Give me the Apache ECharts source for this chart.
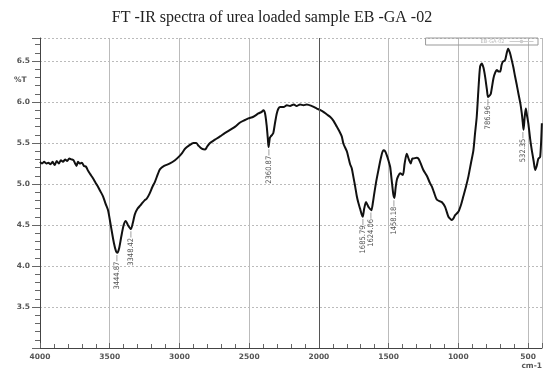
<!DOCTYPE html>
<html>
<head>
<meta charset="utf-8">
<script src="https://cdn.jsdelivr.net/npm/echarts@6/dist/echarts.min.js"></script>
<style>
  html, body { margin: 0; padding: 0; background: #fff; }
  #chart { width: 544px; height: 372px; }
</style>
</head>
<body>
<div id="chart"></div>
<script>
// FT-IR transmittance spectrum, wavenumber (cm-1) vs %T
const wavenumbers = [
  4000, 3985, 3970, 3955, 3940, 3925, 3910, 3895, 3880, 3865, 3850, 3835, 3820, 3805, 3790, 3775,
  3760, 3748, 3738, 3728, 3715, 3700, 3685, 3670, 3655, 3640, 3620, 3600, 3585, 3570, 3548, 3530,
  3512, 3491, 3470, 3455, 3444.87, 3432, 3418, 3400, 3385, 3370, 3348.42, 3335, 3320, 3300, 3280,
  3270, 3250, 3235, 3215, 3195, 3175, 3155, 3139, 3110, 3068, 3032, 3000, 2980, 2960, 2930, 2900,
  2880, 2865, 2840, 2816, 2800, 2781, 2745, 2709, 2675, 2637, 2600, 2565, 2530, 2506, 2470, 2434,
  2410, 2398, 2386, 2375, 2366, 2360.87, 2352, 2345, 2335, 2327, 2315, 2302, 2290, 2278, 2250,
  2230, 2207, 2180, 2160, 2135, 2110, 2087, 2050, 2015, 1990, 1968, 1945, 1920, 1895, 1872, 1855,
  1836, 1824, 1800, 1789, 1776, 1764, 1752, 1740, 1728, 1717, 1705, 1693, 1685.79, 1675, 1662,
  1650, 1640, 1624.06, 1612, 1605, 1590, 1573, 1555, 1538, 1525, 1509, 1500, 1489, 1475, 1466,
  1458.18, 1450, 1441, 1430, 1418, 1398, 1385, 1370, 1355, 1341, 1330, 1322, 1300, 1286, 1270,
  1251, 1226, 1203, 1190, 1175, 1155, 1135, 1119, 1095, 1071, 1055, 1047, 1035, 1023, 1000, 980,
  964, 945, 928, 910, 892, 880, 868, 856, 844, 832, 820, 808, 795, 786.96, 775, 767, 748, 735, 724,
  710, 700, 690, 681, 665, 655, 643, 630, 617, 605, 593, 580, 569, 555, 545, 538, 532.35, 524, 516,
  508, 498, 485, 473, 460, 449, 438, 426, 413, 401
];
const transmittance = [
  5.27, 5.25, 5.27, 5.25, 5.26, 5.24, 5.27, 5.23, 5.28, 5.25, 5.29, 5.27, 5.30, 5.28, 5.31, 5.30,
  5.29, 5.25, 5.22, 5.27, 5.25, 5.26, 5.22, 5.21, 5.16, 5.12, 5.07, 5.01, 4.97, 4.92, 4.85, 4.76,
  4.68, 4.48, 4.28, 4.18, 4.16, 4.22, 4.35, 4.50, 4.55, 4.50, 4.45, 4.52, 4.63, 4.70, 4.74,
  4.76, 4.80, 4.82, 4.88, 4.96, 5.03, 5.12, 5.18, 5.22, 5.25, 5.29, 5.34, 5.38, 5.43, 5.47, 5.50,
  5.50, 5.47, 5.43, 5.42, 5.46, 5.50, 5.54, 5.58, 5.62, 5.66, 5.70, 5.75, 5.78, 5.80, 5.82, 5.86,
  5.88, 5.90, 5.86, 5.72, 5.55, 5.45, 5.56, 5.58, 5.60, 5.62, 5.74, 5.86, 5.92, 5.94, 5.94,
  5.96, 5.95, 5.97, 5.95, 5.97, 5.96, 5.97, 5.95, 5.92, 5.90, 5.88, 5.85, 5.82, 5.77, 5.70, 5.65,
  5.58, 5.49, 5.40, 5.33, 5.24, 5.19, 5.08, 4.97, 4.85, 4.77, 4.70, 4.63, 4.60, 4.70, 4.78,
  4.74, 4.71, 4.68, 4.78, 4.86, 5.02, 5.17, 5.32, 5.41, 5.40, 5.33, 5.28, 5.21, 5.00, 4.87,
  4.83, 4.95, 5.05, 5.10, 5.13, 5.11, 5.25, 5.37, 5.30, 5.25, 5.31, 5.31, 5.32, 5.31, 5.25,
  5.17, 5.10, 5.01, 4.97, 4.90, 4.81, 4.79, 4.78, 4.72, 4.60, 4.57, 4.56, 4.58, 4.62, 4.66, 4.75,
  4.85, 4.97, 5.09, 5.25, 5.41, 5.62, 5.82, 6.15, 6.43, 6.47, 6.42, 6.31, 6.15, 6.06, 6.08, 6.10, 6.29, 6.36, 6.39,
  6.37, 6.37, 6.45, 6.49, 6.51, 6.58, 6.65, 6.60, 6.51, 6.42, 6.31, 6.20, 6.10, 5.98, 5.86, 5.75, 5.66, 5.82, 5.92,
  5.84, 5.74, 5.55, 5.41, 5.28, 5.17, 5.22, 5.31, 5.33, 5.74
];

// Labelled absorption bands
const peakWavenumbers = [3444.87, 3348.42, 2360.87, 1685.79, 1624.06, 1458.18, 786.96, 532.35];
const peakTransmittance = [4.16, 4.45, 5.45, 4.60, 4.68, 4.83, 6.06, 5.66];

// Axis tick labels
const yTickLabels = ['3.5', '4.0', '4.5', '5.0', '5.5', '6.0', '6.5'];
const xTickLabels = ['4000', '3500', '3000', '2500', '2000', '1500', '1000', '500'];

const spectrum = wavenumbers.map((w, i) => [w, transmittance[i]]);
const peaks = peakWavenumbers.map((w, i) => [w, peakTransmittance[i]]);

const axisFont = { fontFamily: 'DejaVu Sans', fontWeight: 'bold', fontSize: 7.5, color: '#555' };

const chart = echarts.init(document.getElementById('chart'), null, { renderer: 'canvas' });
chart.setOption({
  animation: false,
  backgroundColor: '#fff',
  title: {
    text: 'FT -IR spectra of urea loaded sample EB -GA -02',
    left: 'center',
    top: 5,
    textStyle: { fontFamily: 'Liberation Serif', fontWeight: 'normal', fontSize: 16, color: '#222' }
  },
  legend: {
    right: 6, top: 38,
    data: ['EB-GA-02'],
    align: 'right',
    itemWidth: 24, itemHeight: 2,
    padding: [1, 4, 1, 55],
    borderColor: '#999', borderWidth: 1,
    textStyle: { fontSize: 5, color: '#bbb', fontFamily: 'DejaVu Sans' },
    itemStyle: { color: '#ccc' },
    lineStyle: { color: '#ccc', width: 1 }
  },
  grid: { left: 40, right: 2, top: 38, bottom: 24 },
  xAxis: {
    type: 'value',
    inverse: true,
    min: 400, max: 4000,
    splitNumber: 7, minInterval: 500, maxInterval: 500,
    axisLine: { show: true, lineStyle: { color: '#444', width: 1 } },
    axisTick: { show: true, inside: true, length: 5, lineStyle: { color: '#666' } },
    minorTick: { show: true, splitNumber: 5, length: 4, lineStyle: { color: '#666' } },
    splitLine: { show: true, lineStyle: { color: '#bbb', width: 1 } },
    axisLabel: Object.assign({
      margin: 5,
      showMinLabel: false,
      formatter: function (v) { return xTickLabels.indexOf(String(v)) >= 0 ? String(v) : ''; }
    }, axisFont)
  },
  yAxis: {
    type: 'value',
    min: 3.0, max: 6.78,
    interval: 0.5,
    axisLine: { show: true, lineStyle: { color: '#444', width: 1 } },
    axisTick: { show: true, inside: false, length: 8, lineStyle: { color: '#666' } },
    minorTick: { show: true, splitNumber: 5, length: 5, lineStyle: { color: '#666' } },
    splitLine: { show: true, lineStyle: { color: '#bbb', type: [2, 2], width: 1 } },
    axisLabel: Object.assign({
      margin: 10,
      showMinLabel: false,
      showMaxLabel: false,
      formatter: function (v) {
        const s = v.toFixed(1);
        return yTickLabels.indexOf(s) >= 0 ? s : '';
      }
    }, axisFont)
  },
  graphic: [
    { type: 'text', left: 14, top: 76, style: { text: '%T', font: 'bold 7.5px "DejaVu Sans"', fill: '#555' } },
    { type: 'text', right: 2, top: 362, style: { text: 'cm-1', font: 'bold 7.5px "DejaVu Sans"', fill: '#555' } }
  ],
  series: [
    {
      name: 'EB-GA-02',
      type: 'line',
      data: spectrum,
      showSymbol: false,
      smooth: 0.25,
      lineStyle: { color: '#111', width: 2 },
      markLine: {
        silent: true, symbol: 'none', label: { show: false },
        lineStyle: { color: '#555', type: 'solid', width: 1 },
        data: [{ xAxis: 2000 }]
      },
      z: 3
    },
    {
      name: 'bands',
      type: 'scatter',
      data: peaks,
      symbolSize: 0,
      silent: true,
      label: {
        show: true,
        position: 'bottom',
        distance: 2,
        rotate: 90,
        align: 'right',
        verticalAlign: 'middle',
        fontFamily: 'DejaVu Sans Condensed',
        fontSize: 7.5,
        color: '#222',
        formatter: function (p) { return p.value[0].toFixed(2) + '—'; }
      },
      z: 4
    }
  ]
});
</script>
</body>
</html>
